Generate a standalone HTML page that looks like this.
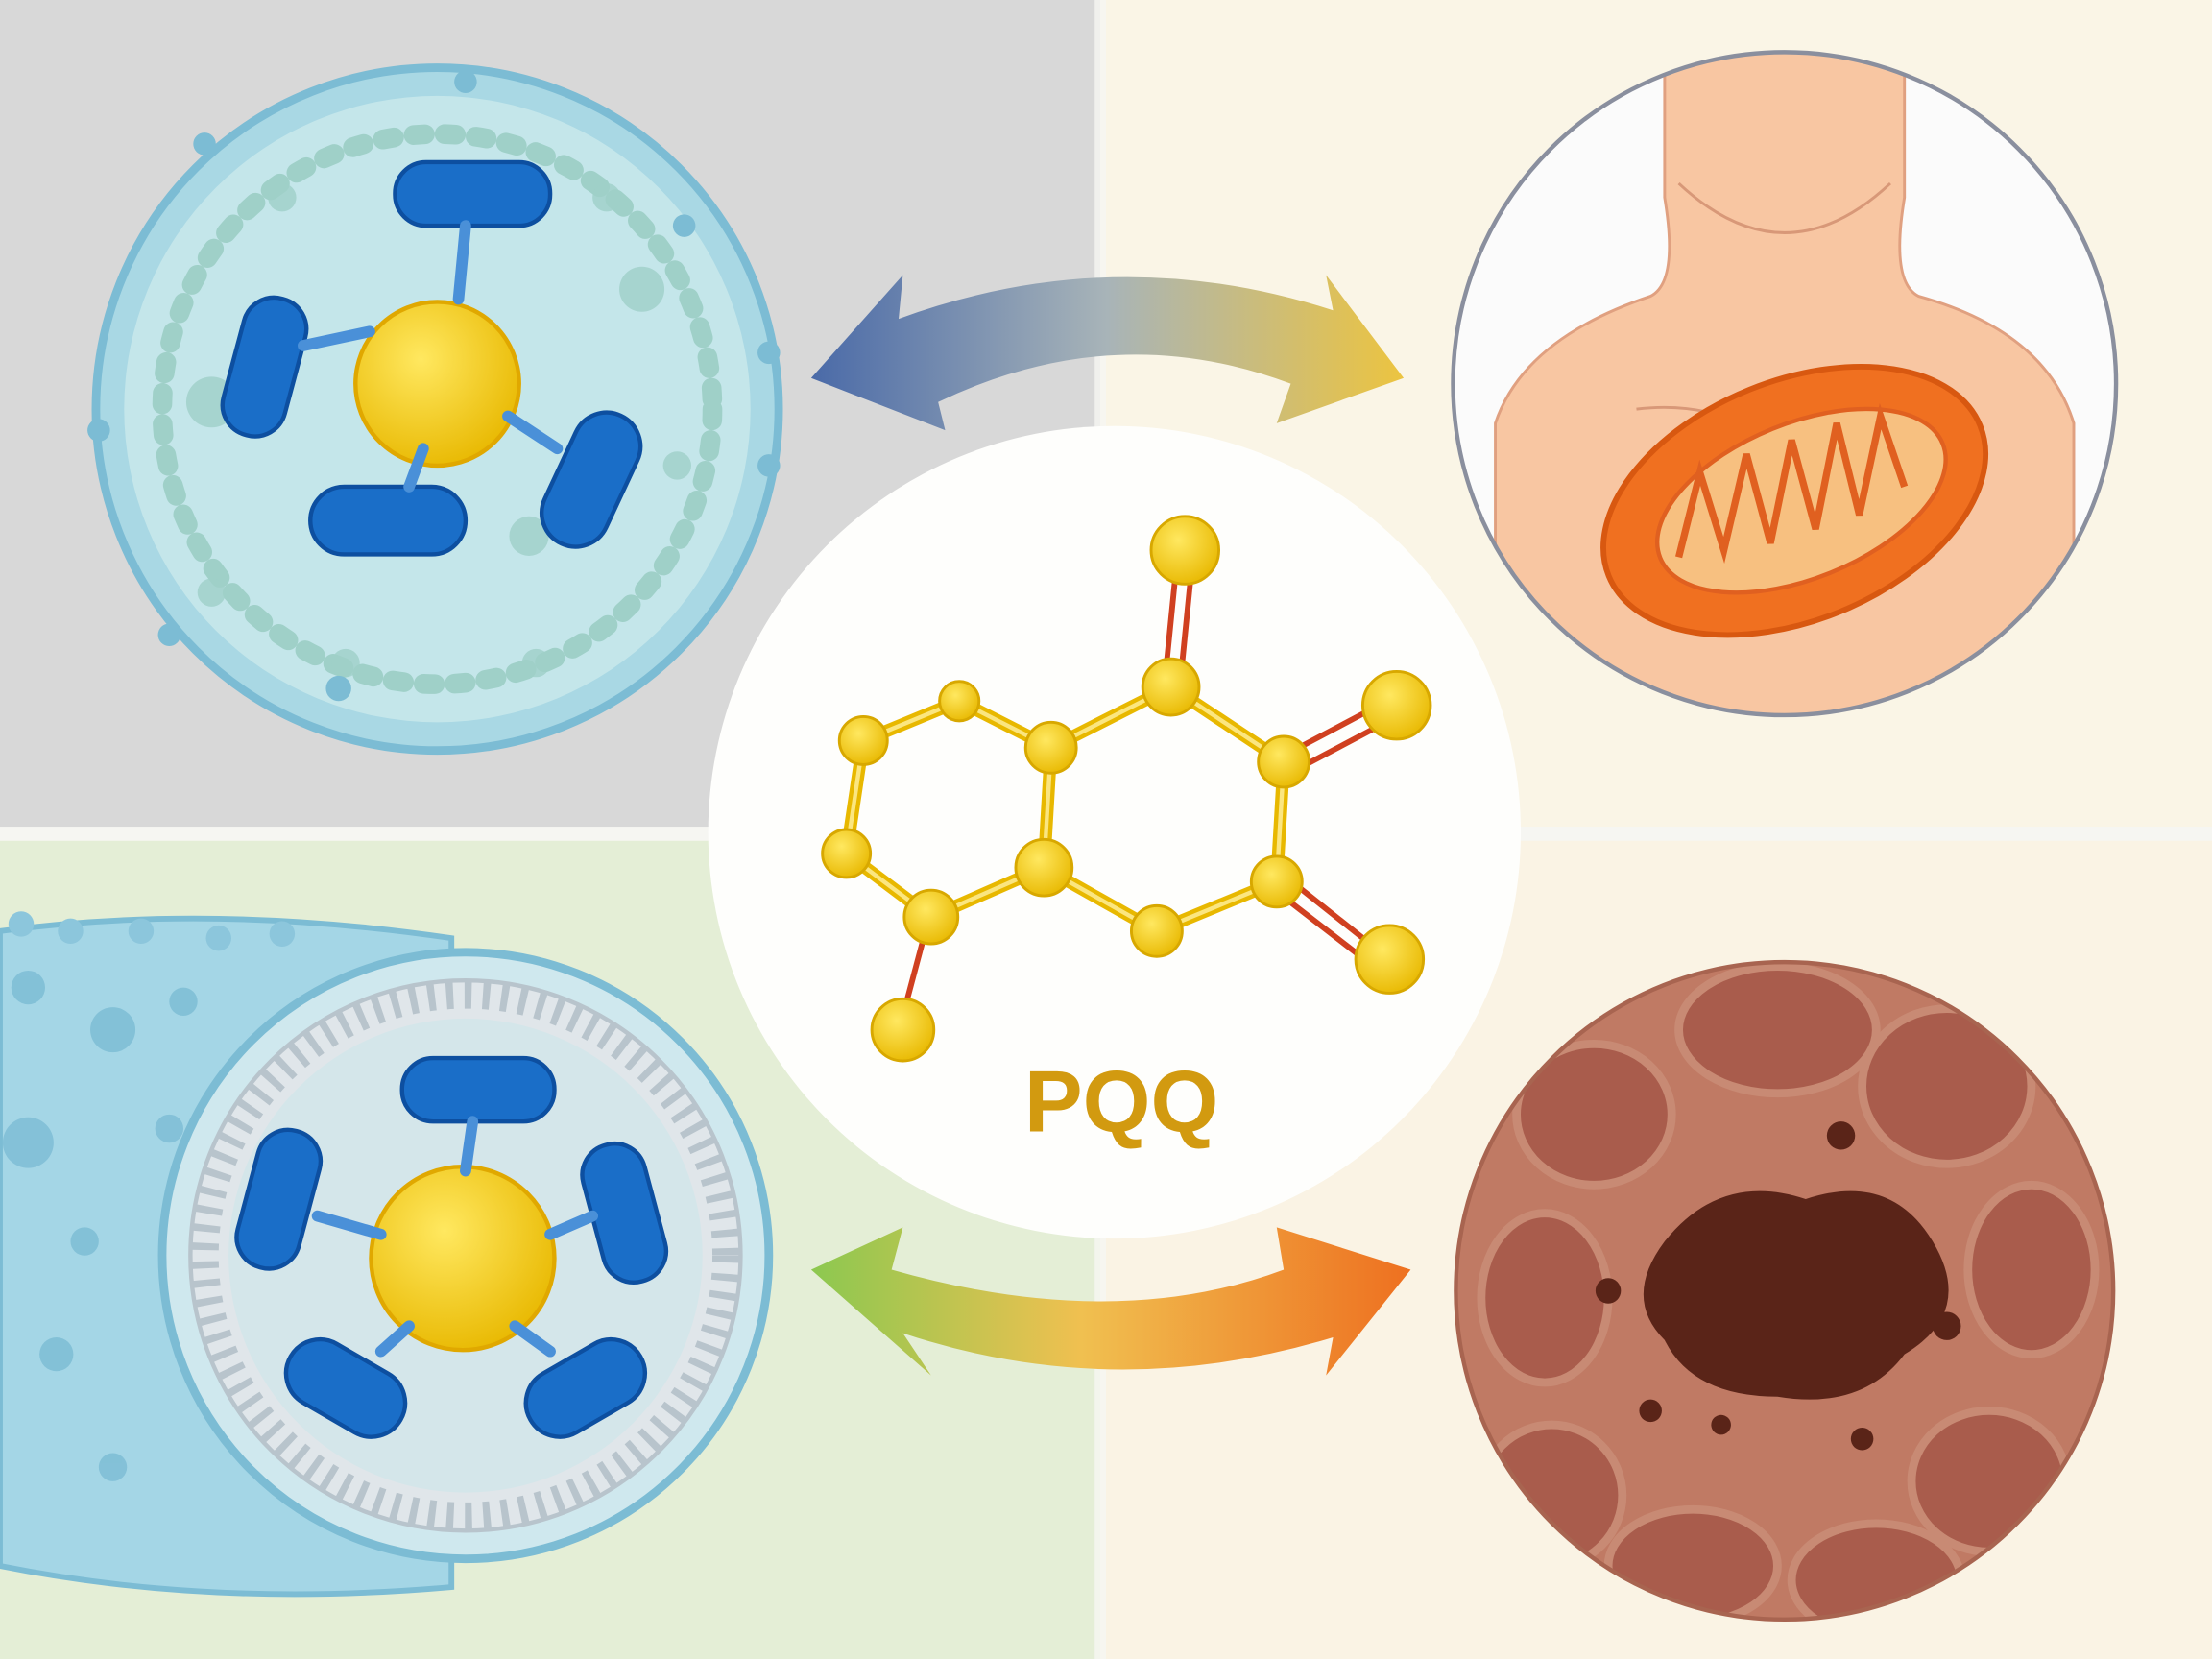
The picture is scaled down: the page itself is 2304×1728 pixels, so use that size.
<!DOCTYPE html>
<html><head><meta charset="utf-8"><style>html,body{margin:0;padding:0;width:2304px;height:1728px;overflow:hidden}svg{display:block}</style></head>
<body>
<svg width="2304" height="1728" viewBox="0 0 1568 1176" preserveAspectRatio="none" xmlns="http://www.w3.org/2000/svg">
<defs>
<linearGradient id="a1" x1="0" x2="1"><stop offset="0" stop-color="#4a6aa8"/><stop offset="0.5" stop-color="#a8b4b8"/><stop offset="1" stop-color="#ecc440"/></linearGradient>
<linearGradient id="a2" x1="0" x2="1"><stop offset="0" stop-color="#8cc850"/><stop offset="0.45" stop-color="#f0c050"/><stop offset="1" stop-color="#ee7020"/></linearGradient>
<radialGradient id="yb" cx="0.4" cy="0.35" r="0.7"><stop offset="0" stop-color="#ffe860"/><stop offset="1" stop-color="#e8b800"/></radialGradient>
</defs>
<rect x="0" y="0" width="780" height="592" fill="#d8d8d8"/>
<rect x="780" y="0" width="788" height="592" fill="#faf5e6"/>
<rect x="0" y="592" width="780" height="584" fill="#e4eed6"/>
<rect x="780" y="592" width="788" height="584" fill="#faf3e4"/>
<rect x="0" y="586" width="1568" height="10" fill="#f6f6f2"/>
<rect x="776" y="0" width="8" height="1176" fill="#f6f6f2" opacity="0.8"/>

<!-- top-left cell -->
<g>
<circle cx="310" cy="290" r="242" fill="#a9d8e4" stroke="#7cbcd4" stroke-width="6"/>
<circle cx="310" cy="290" r="222" fill="#c4e6ea"/>
<circle cx="310" cy="290" r="195" fill="none" stroke="#9fd0c8" stroke-width="14" stroke-dasharray="8 14" stroke-linecap="round"/>
<g fill="#9fd0c8" opacity="0.8">
<circle cx="150" cy="285" r="18"/><circle cx="455" cy="205" r="16"/><circle cx="375" cy="380" r="14"/><circle cx="200" cy="140" r="10"/><circle cx="430" cy="140" r="10"/><circle cx="150" cy="420" r="10"/><circle cx="480" cy="330" r="10"/><circle cx="245" cy="470" r="10"/><circle cx="380" cy="470" r="10"/>
</g>
<g fill="#7cbcd4"><circle cx="145" cy="102" r="8"/><circle cx="330" cy="58" r="8"/><circle cx="485" cy="160" r="8"/><circle cx="545" cy="250" r="8"/><circle cx="545" cy="330" r="8"/><circle cx="70" cy="305" r="8"/><circle cx="240" cy="488" r="9"/><circle cx="120" cy="450" r="8"/></g>
<circle cx="310" cy="272" r="58" fill="url(#yb)" stroke="#e0a800" stroke-width="3"/>
<g fill="#1a6ec8" stroke="#0d4fa0" stroke-width="3">
<rect x="280" y="115" width="110" height="45" rx="22"/>
<rect x="165" y="210" width="45" height="100" rx="22" transform="rotate(15 187 260)"/>
<rect x="220" y="345" width="110" height="48" rx="24"/>
<rect x="395" y="290" width="48" height="100" rx="24" transform="rotate(25 419 340)"/>
</g>
<g stroke="#4a90d8" stroke-width="8" stroke-linecap="round"><line x1="330" y1="160" x2="325" y2="212"/><line x1="215" y1="245" x2="262" y2="235"/><line x1="290" y1="345" x2="300" y2="318"/><line x1="395" y1="318" x2="360" y2="295"/></g>
</g>

<!-- top-right body -->
<g>
<clipPath id="c1"><circle cx="1265" cy="272" r="235"/></clipPath>
<circle cx="1265" cy="272" r="235" fill="#fbfbfb"/>
<g clip-path="url(#c1)">
<path d="M1180 0 L1180 140 Q1190 200 1170 210 Q1080 240 1060 300 L1060 520 L1470 520 L1470 300 Q1450 235 1360 210 Q1340 200 1350 140 L1350 0 Z" fill="#f8c6a2" stroke="#e0a080" stroke-width="2"/>
<path d="M1190 130 Q1265 200 1340 130" fill="none" stroke="#d89878" stroke-width="2"/>
<path d="M1160 290 Q1200 285 1235 300 M1300 300 Q1340 285 1380 290" fill="none" stroke="#d89878" stroke-width="2"/>
<ellipse cx="1272" cy="355" rx="142" ry="85" transform="rotate(-22 1272 355)" fill="#f07020" stroke="#d85810" stroke-width="4"/>
<ellipse cx="1277" cy="355" rx="108" ry="55" transform="rotate(-22 1277 355)" fill="#f7c080" stroke="#e06020" stroke-width="3"/>
<path d="M1190 395 L1205 335 L1222 390 L1238 322 L1255 385 L1270 312 L1287 375 L1302 300 L1318 365 L1333 295 L1350 345" fill="none" stroke="#e06020" stroke-width="5"/>
</g>
<circle cx="1265" cy="272" r="235" fill="none" stroke="#8a8f9e" stroke-width="3"/>
</g>

<!-- bottom-left cylinder -->
<g>
<path d="M0 660 Q150 640 320 665 L320 1125 Q150 1140 0 1110 Z" fill="#a4d6e6" stroke="#7cbcd4" stroke-width="4"/>
<g fill="#7cbcd4" opacity="0.8"><circle cx="20" cy="700" r="12"/><circle cx="80" cy="730" r="16"/><circle cx="130" cy="710" r="10"/><circle cx="20" cy="810" r="18"/><circle cx="60" cy="880" r="10"/><circle cx="40" cy="960" r="12"/><circle cx="120" cy="800" r="10"/><circle cx="80" cy="1040" r="10"/></g>
<g fill="#8cc6dc"><circle cx="15" cy="655" r="9"/><circle cx="50" cy="660" r="9"/><circle cx="100" cy="660" r="9"/><circle cx="155" cy="665" r="9"/><circle cx="200" cy="662" r="9"/></g>
<circle cx="330" cy="890" r="215" fill="#cfe8ee" stroke="#7cbcd4" stroke-width="6"/>
<circle cx="330" cy="890" r="195" fill="#e0e6ea" stroke="#b8c4cc" stroke-width="3"/>
<circle cx="330" cy="890" r="185" fill="none" stroke="#b8c4cc" stroke-width="20" stroke-dasharray="5 8"/>
<circle cx="330" cy="890" r="168" fill="#d4e6ea"/>
<circle cx="328" cy="892" r="65" fill="url(#yb)" stroke="#e0a800" stroke-width="3"/>
<g fill="#1a6ec8" stroke="#0d4fa0" stroke-width="3">
<rect x="285" y="750" width="108" height="45" rx="22"/>
<rect x="175" y="800" width="45" height="100" rx="22" transform="rotate(15 197 850)"/>
<rect x="420" y="810" width="45" height="100" rx="22" transform="rotate(-15 442 860)"/>
<rect x="200" y="960" width="90" height="48" rx="24" transform="rotate(30 245 984)"/>
<rect x="370" y="960" width="90" height="48" rx="24" transform="rotate(-30 415 984)"/>
</g>
<g stroke="#4a90d8" stroke-width="8" stroke-linecap="round"><line x1="335" y1="795" x2="330" y2="830"/><line x1="225" y1="862" x2="270" y2="875"/><line x1="420" y1="862" x2="390" y2="875"/><line x1="270" y1="958" x2="290" y2="940"/><line x1="390" y1="958" x2="365" y2="940"/></g>
</g>

<!-- bottom-right tissue -->
<g>
<clipPath id="c2"><circle cx="1265" cy="915" r="233"/></clipPath>
<circle cx="1265" cy="915" r="233" fill="#c07a64"/>
<g clip-path="url(#c2)" fill="#a95c4c" stroke="#c88a74" stroke-width="6">
<ellipse cx="1260" cy="730" rx="70" ry="45"/><ellipse cx="1380" cy="770" rx="60" ry="55"/><ellipse cx="1130" cy="790" rx="55" ry="50"/>
<ellipse cx="1095" cy="920" rx="45" ry="60"/><ellipse cx="1440" cy="900" rx="45" ry="60"/><ellipse cx="1100" cy="1060" rx="50" ry="50"/>
<ellipse cx="1410" cy="1050" rx="55" ry="50"/><ellipse cx="1200" cy="1110" rx="60" ry="40"/><ellipse cx="1330" cy="1120" rx="60" ry="40"/>
</g>
<g fill="#5a2418"><path d="M1180 880 Q1220 830 1280 850 Q1340 830 1370 880 Q1400 930 1350 960 Q1320 1000 1260 990 Q1200 990 1180 950 Q1150 920 1180 880 Z"/>
<circle cx="1140" cy="915" r="9"/><circle cx="1305" cy="805" r="10"/><circle cx="1380" cy="940" r="10"/><circle cx="1320" cy="1020" r="8"/><circle cx="1220" cy="1010" r="7"/><circle cx="1170" cy="1000" r="8"/></g>
<circle cx="1265" cy="915" r="233" fill="none" stroke="#a86450" stroke-width="3"/>
</g>

<!-- center white -->
<circle cx="790" cy="590" r="288" fill="#fefefc"/>

<!-- arrows -->
<path d="M575 268 L640 195 L637 226 Q790 170 945 220 L940 195 L995 268 L905 300 L915 272 Q790 225 665 285 L670 305 Z" fill="url(#a1)"/>
<path d="M575 900 L640 870 L632 900 Q790 945 910 900 L905 870 L1000 900 L940 975 L945 948 Q790 995 640 945 L660 975 Z" fill="url(#a2)"/>

<!-- molecule -->
<g stroke="#e8b800" stroke-width="9" stroke-linecap="round" fill="none">
<path d="M680 497 L612 525 L600 605 L660 650 L740 615 L745 530 Z"/>
<path d="M745 530 L830 487 L910 540 L905 625 L820 660 L740 615"/>
</g>
<g stroke="#fff1a0" stroke-width="3" fill="none" opacity="0.8">
<path d="M680 497 L612 525 L600 605 L660 650 L740 615 L745 530 Z"/>
<path d="M745 530 L830 487 L910 540 L905 625 L820 660 L740 615"/>
</g>
<g stroke="#d04020" stroke-width="4">
<line x1="834" y1="400" x2="826" y2="480"/><line x1="845" y1="400" x2="837" y2="480"/>
<line x1="915" y1="533" x2="985" y2="496"/><line x1="920" y1="545" x2="990" y2="508"/>
<line x1="912" y1="622" x2="980" y2="676"/><line x1="905" y1="632" x2="975" y2="686"/>
<line x1="656" y1="660" x2="640" y2="720"/>
</g>
<g fill="url(#yb)" stroke="#d8a800" stroke-width="2">
<circle cx="680" cy="497" r="14"/><circle cx="612" cy="525" r="17"/><circle cx="600" cy="605" r="17"/><circle cx="660" cy="650" r="19"/><circle cx="740" cy="615" r="20"/><circle cx="745" cy="530" r="18"/>
<circle cx="830" cy="487" r="20"/><circle cx="910" cy="540" r="18"/><circle cx="905" cy="625" r="18"/><circle cx="820" cy="660" r="18"/>
<circle cx="840" cy="390" r="24"/><circle cx="990" cy="500" r="24"/><circle cx="985" cy="680" r="24"/><circle cx="640" cy="730" r="22"/>
</g>
<text x="795" y="802" text-anchor="middle" font-family="Liberation Sans, sans-serif" font-weight="bold" font-size="62" fill="#d29a10">PQQ</text>
</svg>
</body></html>
